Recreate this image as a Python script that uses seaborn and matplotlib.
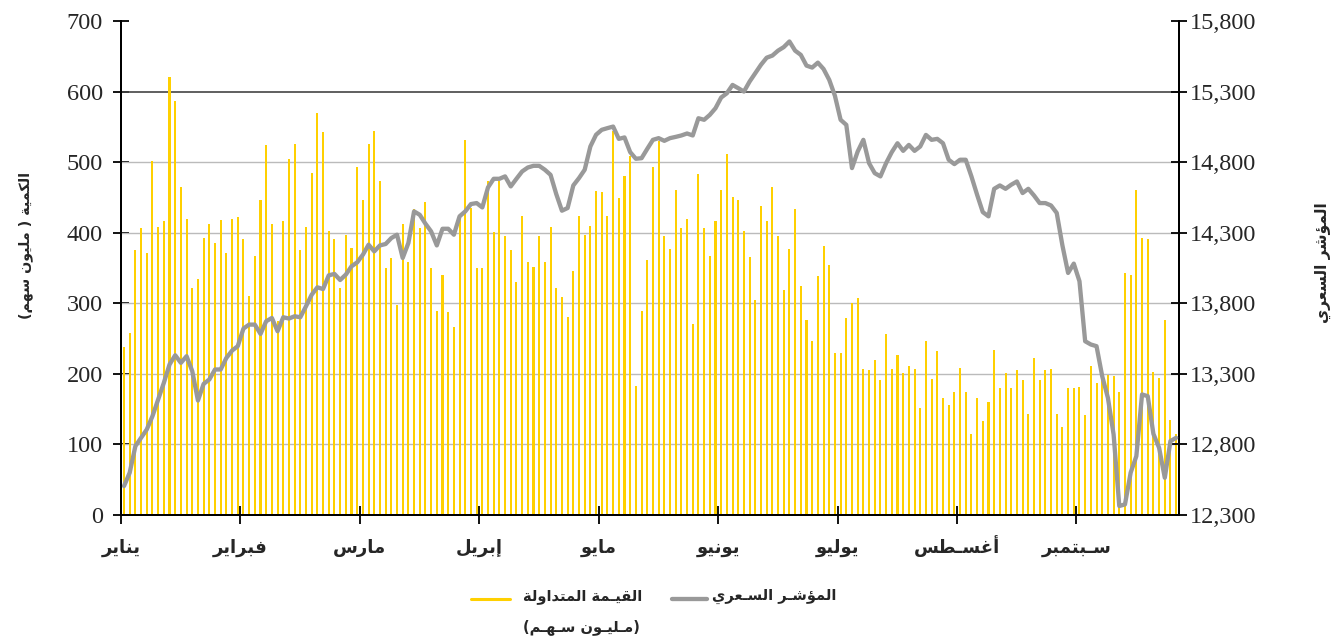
import numpy as np
import pandas as pd
import matplotlib
matplotlib.use("Agg")
import matplotlib.pyplot as plt
import matplotlib.transforms as mtransforms
from matplotlib.lines import Line2D
import seaborn as sns

# ---------------- data ----------------
months = ["يناير", "فبراير", "مارس", "إبريل", "مايو", "يونيو", "يوليو", "أغسـطس", "سـبتمبر"]

traded_value = [
    238, 258, 376, 406, 371, 502, 408, 416, 620, 586,
    465, 420, 321, 334, 393, 413, 385, 418, 371, 420,
    422, 391, 311, 367, 447, 525, 413, 275, 416, 504,
    526, 375, 408, 485, 569, 543, 403, 391, 321, 397,
    379, 493,
    447, 526, 544, 473, 350, 364, 297, 413, 358, 434,
    406, 444, 350, 289, 340, 287, 266, 426, 532, 435,
    350, 350, 473, 401, 473, 395, 375, 330, 424, 358,
    352, 395, 358, 408, 321, 309, 280, 346, 424, 397,
    409, 459,
    457, 424, 544, 449, 481, 508, 183, 289, 362, 493,
    530, 395, 377, 461, 406, 420, 270, 483, 406, 367,
    416, 461, 512, 451, 446, 403, 365, 305, 438, 416,
    465, 395, 319, 377, 434, 324, 276, 246, 338, 381,
    354, 229,
    229, 279, 301, 307, 207, 205, 219, 191, 256, 207,
    227, 201, 211, 207, 151, 246, 193, 232, 166, 156,
    174, 209, 174, 115, 166, 133, 160, 234, 180, 201,
    180, 205, 191, 143, 222, 191, 205, 207, 143, 125,
    180, 180, 182,
    142, 211, 187, 194, 199, 197, 174, 343, 340, 461,
    393, 391, 202, 194, 276, 135, 115,
]

price_index = [
    12505, 12600, 12788, 12847, 12906, 13000, 13118, 13236, 13366, 13432,
    13378, 13425, 13319, 13111, 13229, 13260, 13331, 13331, 13413, 13465,
    13496, 13621, 13649, 13649, 13583, 13673, 13696, 13602, 13701, 13692,
    13708, 13701, 13779, 13861, 13913, 13901, 13998, 14008, 13965, 14003,
    14062, 14090,
    14144, 14215, 14168, 14210, 14220, 14262, 14286, 14121, 14227, 14451,
    14427, 14364, 14309, 14210, 14328, 14328, 14286, 14416, 14451, 14503,
    14510, 14479, 14621, 14682, 14682, 14699, 14628, 14682, 14734, 14762,
    14774, 14774, 14746, 14710, 14574, 14456, 14475, 14635, 14687, 14746,
    14911, 14994,
    15029, 15041, 15052, 14965, 14975, 14871, 14824, 14828, 14894, 14958,
    14970, 14951, 14970, 14979, 14989, 15003, 14989, 15111, 15100, 15135,
    15182, 15258, 15288, 15347, 15324, 15300, 15371, 15430, 15490, 15540,
    15555, 15590, 15615, 15655, 15590, 15560, 15484, 15470, 15505, 15460,
    15383, 15270, 15100, 15064,
    14758, 14875, 14958, 14793, 14722, 14699, 14793, 14871, 14934, 14880,
    14922, 14880, 14911, 14993, 14958, 14965, 14934, 14817, 14786, 14817,
    14817, 14699, 14569, 14446, 14416, 14611, 14635, 14611, 14640, 14663,
    14581, 14611, 14564, 14510, 14510, 14493, 14440, 14210, 14015, 14081,
    13956,
    13531, 13508, 13496, 13283, 13130, 12871, 12364, 12375, 12600, 12717,
    13154, 13142, 12875, 12776, 12564, 12824, 12847,
]

left_ticks = [0, 100, 200, 300, 400, 500, 600, 700]
right_ticks = [12300, 12800, 13300, 13800, 14300, 14800, 15300, 15800]

ylabel_left = "الكمية ( مليون سهم)"
ylabel_right = "المؤشر السعري"
legend_bar = "القيـمة المتداولة"
legend_bar_unit = "(مـليـون سـهـم)"
legend_line = "المؤشـر السـعري"

# ---------------- minimal Arabic shaping (presentation forms) ----------------
FORMS = {
    'ا': ('\uFE8D', '\uFE8E', None, None),
    'أ': ('\uFE83', '\uFE84', None, None),
    'إ': ('\uFE87', '\uFE88', None, None),
    'ب': ('\uFE8F', '\uFE90', '\uFE91', '\uFE92'),
    'ة': ('\uFE93', '\uFE94', None, None),
    'ت': ('\uFE95', '\uFE96', '\uFE97', '\uFE98'),
    'د': ('\uFEA9', '\uFEAA', None, None),
    'ر': ('\uFEAD', '\uFEAE', None, None),
    'س': ('\uFEB1', '\uFEB2', '\uFEB3', '\uFEB4'),
    'ش': ('\uFEB5', '\uFEB6', '\uFEB7', '\uFEB8'),
    'ط': ('\uFEC1', '\uFEC2', '\uFEC3', '\uFEC4'),
    'ع': ('\uFEC9', '\uFECA', '\uFECB', '\uFECC'),
    'غ': ('\uFECD', '\uFECE', '\uFECF', '\uFED0'),
    'ف': ('\uFED1', '\uFED2', '\uFED3', '\uFED4'),
    'ق': ('\uFED5', '\uFED6', '\uFED7', '\uFED8'),
    'ك': ('\uFED9', '\uFEDA', '\uFEDB', '\uFEDC'),
    'ل': ('\uFEDD', '\uFEDE', '\uFEDF', '\uFEE0'),
    'م': ('\uFEE1', '\uFEE2', '\uFEE3', '\uFEE4'),
    'ن': ('\uFEE5', '\uFEE6', '\uFEE7', '\uFEE8'),
    'ه': ('\uFEE9', '\uFEEA', '\uFEEB', '\uFEEC'),
    'و': ('\uFEED', '\uFEEE', None, None),
    'ؤ': ('\uFE85', '\uFE86', None, None),
    'ي': ('\uFEF1', '\uFEF2', '\uFEF3', '\uFEF4'),
    'ى': ('\uFEEF', '\uFEF0', None, None),
}
TATWEEL = '\u0640'


def _dual(c):
    return c == TATWEEL or (c in FORMS and FORMS[c][2] is not None)


def _arabic(c):
    return c == TATWEEL or c in FORMS


def shape(text):
    out = []
    for i, c in enumerate(text):
        if c not in FORMS:
            out.append(c)
            continue
        prev = text[i - 1] if i > 0 else ''
        nxt = text[i + 1] if i + 1 < len(text) else ''
        jp = _dual(prev)
        jn = _dual(c) and _arabic(nxt)
        iso, fin, ini, med = FORMS[c]
        if jp and jn:
            out.append(med)
        elif jp:
            out.append(fin)
        elif jn:
            out.append(ini)
        else:
            out.append(iso)
    vis = ''.join(reversed(out))
    return vis.translate(str.maketrans('()', ')('))


# ---------------- plot ----------------
sns.set_theme(style="white")
plt.rcParams['font.family'] = ['DejaVu Sans']

BAR_COLOR = "#FFD000"
LINE_COLOR = "#999999"

n = len(traded_value)
df = pd.DataFrame({"day": np.arange(n), "value": traded_value, "index": price_index})

fig = plt.figure(figsize=(13.33, 6.36), dpi=100)
ax = fig.add_axes([121 / 1333, 1 - 515 / 636, (1179 - 121) / 1333, (515 - 21) / 636])

sns.barplot(data=df, x="day", y="value", color=BAR_COLOR, width=0.36,
            native_scale=True, ax=ax, saturation=1, edgecolor="none", zorder=2)

ax.set_ylim(0, 700)
ax.set_xlim(-0.53, n - 0.5)
ax.set_yticks(left_ticks)
ax.set_yticklabels([str(v) for v in left_ticks], fontfamily="Liberation Serif", fontsize=17.5)

for v in left_ticks[1:-1]:
    if v == 600:
        ax.axhline(v, color="#444444", lw=1.2, zorder=1)
    else:
        ax.axhline(v, color="#BBBBBB", lw=1.0, zorder=1)

month_pos = [-0.53 + 21.0 * k for k in range(len(months))]
ax.set_xticks(month_pos)
ax.set_xticklabels([shape(m) for m in months], fontsize=13, fontweight="bold")
xlabels = ax.get_xticklabels()
for lab in xlabels:
    lab.set_verticalalignment("baseline")
# first month label sits slightly right of its tick, as in the reference
xlabels[0].set_transform(xlabels[0].get_transform() +
                         mtransforms.ScaledTranslation(7 / 100, 0, fig.dpi_scale_trans))
ax.set_xlabel("")
ax.set_ylabel("")

ax2 = ax.twinx()
sns.lineplot(data=df, x="day", y="index", color=LINE_COLOR, lw=3.1, ax=ax2, zorder=3)
ax2.set_ylim(12300, 15800)
ax2.set_yticks(right_ticks)
ax2.set_yticklabels([f"{v:,}" for v in right_ticks], fontfamily="Liberation Serif", fontsize=17.5)
ax2.set_ylabel("")
ax2.set_xlim(-0.53, n - 0.5)

for a in (ax, ax2):
    a.spines["top"].set_visible(False)
    for s in ("left", "right", "bottom"):
        a.spines[s].set_color("black")
        a.spines[s].set_linewidth(1.4)
    a.grid(False)

ax.tick_params(axis="y", direction="inout", length=12, width=1.3, color="black", pad=7, left=True)
ax.tick_params(axis="x", direction="inout", length=13, width=1.3, color="black", pad=21, bottom=True)
ax2.tick_params(axis="y", direction="inout", length=12, width=1.3, color="black", pad=2, right=True)

# axis titles
fig.text(26 / 1333, 1 - 245 / 636, shape(ylabel_left), rotation=90, ha="center", va="center",
         fontsize=10.3, fontweight="bold")
fig.text(1323 / 1333, 1 - 263 / 636, shape(ylabel_right), rotation=90, ha="center", va="center",
         fontsize=11.2, fontweight="bold")

# legend
fig.add_artist(Line2D([471 / 1333, 510 / 1333], [1 - 599 / 636] * 2, color=BAR_COLOR, lw=2.2))
fig.text(583 / 1333, 1 - 596 / 636, shape(legend_bar), ha="center", va="center", fontsize=10.5,
         fontweight="bold")
fig.text(581 / 1333, 1 - 627 / 636, shape(legend_bar_unit), ha="center", va="center", fontsize=10.5,
         fontweight="bold")
fig.add_artist(Line2D([672 / 1333, 707 / 1333], [1 - 599 / 636] * 2, color=LINE_COLOR, lw=3.1))
fig.text(774 / 1333, 1 - 596 / 636, shape(legend_line), ha="center", va="center", fontsize=10.5,
         fontweight="bold")

fig.savefig("out.png", dpi=100)
